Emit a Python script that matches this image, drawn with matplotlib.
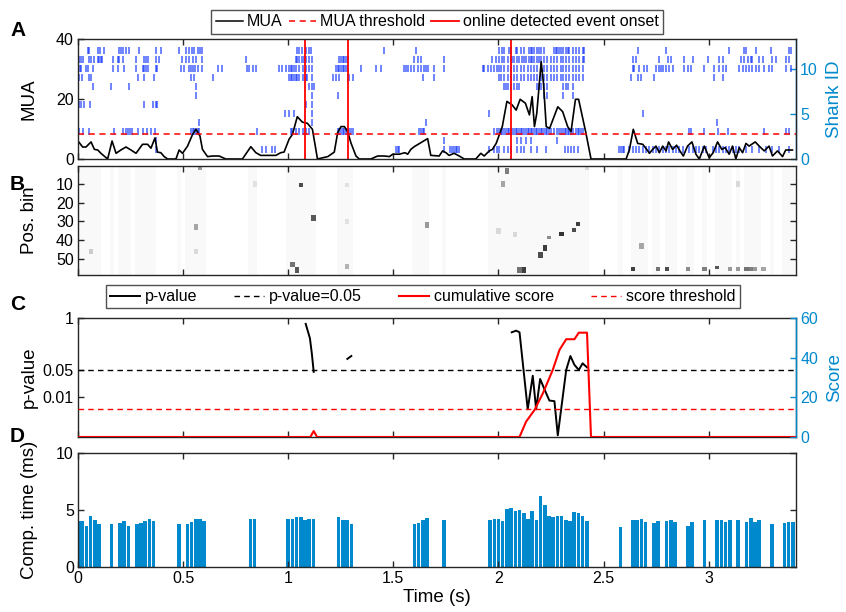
import numpy as np
import matplotlib
matplotlib.use("Agg")
import matplotlib.pyplot as plt
from matplotlib.lines import Line2D

plt.rcParams["font.family"] = ["Liberation Sans", "DejaVu Sans"]
plt.rcParams["font.size"] = 11

# ---- Panel A: MUA trace (s, spikes) ----
mua_t = [0.0, 0.022, 0.038, 0.062, 0.078, 0.094, 0.109, 0.141, 0.162, 0.181, 0.204, 0.228,
         0.252, 0.276, 0.307, 0.331, 0.347, 0.366, 0.378, 0.394, 0.410, 0.426, 0.466, 0.481,
         0.497, 0.521, 0.545, 0.561, 0.580, 0.592, 0.616, 0.640, 0.671, 0.703, 0.782, 0.822,
         0.846, 0.869, 0.941, 0.964, 0.980, 1.004, 1.020, 1.043, 1.067, 1.091, 1.115, 1.131,
         1.139, 1.188, 1.219, 1.235, 1.251, 1.267, 1.283, 1.298, 1.322, 1.338, 1.393, 1.425,
         1.457, 1.481, 1.497, 1.528, 1.555, 1.568, 1.583, 1.599, 1.663, 1.678, 1.718, 1.734,
         1.750, 1.765, 1.789, 1.813, 1.837, 1.892, 1.916, 1.932, 1.956, 1.971, 1.989, 2.018,
         2.040, 2.065, 2.084, 2.103, 2.128, 2.147, 2.160, 2.171, 2.182, 2.203, 2.214, 2.227,
         2.243, 2.258, 2.282, 2.305, 2.329, 2.345, 2.366, 2.381, 2.397, 2.416, 2.440, 2.559,
         2.607, 2.623, 2.641, 2.662, 2.686, 2.705, 2.718, 2.733, 2.749, 2.765, 2.781, 2.797,
         2.809, 2.828, 2.847, 2.863, 2.879, 2.899, 2.920, 2.939, 2.955, 2.979, 3.002, 3.021,
         3.042, 3.062, 3.078, 3.097, 3.113, 3.129, 3.145, 3.161, 3.177, 3.192, 3.221, 3.240,
         3.264, 3.287, 3.303, 3.327, 3.351, 3.366, 3.398]
mua_v = [6.0, 4.0, 4.0, 5.7, 3.2, 3.0, 1.9, 0.0, 6.0, 1.9, 3.0, 4.0,
         3.0, 1.9, 4.9, 4.9, 3.6, 7.0, 2.3, 2.1, 0.8, 0.0, 0.0, 3.0,
         1.9, 4.3, 8.2, 9.9, 7.7, 3.2, 0.8, 1.0, 1.0, 0.0, 0.0, 4.1,
         2.1, 1.2, 1.2, 2.1, 2.3, 6.6, 8.2, 14.1, 12.3, 11.9, 9.9, 3.2,
         0.0, 0.8, 2.3, 8.8, 10.8, 10.8, 9.0, 5.4, 1.0, 0.0, 0.0, 1.0,
         1.0, 0.8, 1.6, 1.6, 2.1, 1.6, 3.2, 4.1, 6.8, 1.2, 1.0, 2.7,
         2.1, 1.2, 1.9, 1.0, 0.0, 0.0, 1.9, 1.0, 2.7, 3.2, 5.2, 10.8,
         19.2, 18.0, 16.3, 19.9, 18.6, 14.7, 20.8, 10.8, 15.2, 32.4, 25.2, 10.8,
         10.2, 13.0, 17.4, 15.8, 10.8, 9.1, 19.9, 19.9, 14.7, 8.6, 0.0, 0.0,
         0.0, 3.2, 9.9, 5.2, 4.9, 3.2, 1.9, 3.2, 4.3, 2.1, 4.3, 2.7,
         5.7, 3.2, 4.6, 2.7, 1.0, 4.3, 5.7, 1.6, 0.0, 4.3, 0.4, 2.1,
         5.7, 3.2, 3.8, 1.6, 4.3, 0.0, 3.8, 2.1, 5.2, 4.3, 5.7, 4.3,
         2.7, 4.3, 1.0, 2.7, 0.8, 3.0, 3.0]
mua_threshold = 8.2
event_onsets = [1.080, 1.282, 2.059]

# spike raster, one list of spike times (s) per shank
shank_ids = [1, 2, 3, 4, 5, 6, 7, 8, 9, 10, 11, 12]
shank1 = [0.371, 0.877, 0.893, 0.925, 0.937, 1.512, 1.520, 1.528, 1.742, 1.770, 1.781, 1.789,
          1.797, 1.805, 1.813, 1.955, 1.979, 1.995, 2.003, 2.027, 2.043, 2.058, 2.090, 2.106,
          2.122, 2.153, 2.185, 2.225, 2.314, 2.330, 2.345, 2.361, 2.377, 2.575, 2.583, 2.591,
          2.599, 2.622, 2.638, 2.654, 2.670, 2.686, 2.702, 2.717, 2.733, 2.749, 2.765, 2.781,
          2.797, 2.812, 2.828, 2.844, 2.860, 2.876, 2.907, 2.923, 2.939, 2.955, 2.971, 2.987,
          3.018, 3.034, 3.050, 3.066, 3.082, 3.098, 3.113, 3.129, 3.145, 3.177, 3.208, 3.240,
          3.272, 3.303, 3.335, 3.382]
shank2 = [0.371, 1.742, 2.090, 2.106, 2.130, 2.153, 2.280]
shank3 = [0.006, 0.022, 0.051, 0.173, 0.212, 0.228, 0.236, 0.247, 0.256, 0.283, 0.307, 0.326,
          0.347, 0.367, 0.537, 0.545, 0.553, 0.561, 0.569, 0.576, 0.853, 1.012, 1.020, 1.036,
          1.052, 1.068, 1.083, 1.099, 1.235, 1.243, 1.251, 1.259, 1.267, 1.275, 1.283, 1.291,
          1.298, 1.306, 1.623, 1.631, 1.639, 1.647, 1.979, 1.995, 2.003, 2.011, 2.019, 2.027,
          2.035, 2.043, 2.051, 2.058, 2.066, 2.074, 2.082, 2.090, 2.098, 2.106, 2.114, 2.122,
          2.130, 2.138, 2.145, 2.153, 2.161, 2.169, 2.177, 2.185, 2.193, 2.201, 2.209, 2.217,
          2.225, 2.233, 2.241, 2.249, 2.264, 2.280, 2.290, 2.298, 2.306, 2.314, 2.322, 2.330,
          2.337, 2.345, 2.353, 2.369, 2.377, 2.385, 2.393, 2.401, 2.907, 2.915, 2.979, 3.042,
          3.090, 3.264, 3.367, 3.382]
shank4 = [0.576, 1.115, 1.655, 3.037]
shank5 = [0.985, 1.004, 1.028, 1.115, 1.955, 2.686]
shank6 = [0.003, 0.014, 0.030, 0.057, 0.315, 0.355, 0.371, 0.378, 1.083, 1.115]
shank7 = [0.561, 1.115, 1.235, 2.217, 2.233, 2.309, 2.353]
shank8 = [0.070, 0.157, 0.244, 0.561, 1.099, 1.115, 1.123, 2.027, 2.035, 2.043, 2.058, 2.074,
          2.090, 2.098, 2.185, 2.193, 2.201, 2.217, 2.233, 2.306, 2.322, 2.330, 2.353]
shank9 = [0.003, 0.019, 0.054, 0.062, 0.283, 0.315, 0.363, 0.537, 0.553, 0.640, 1.004, 1.012,
          1.020, 1.028, 1.036, 1.044, 1.052, 1.068, 1.083, 1.091, 1.115, 1.211, 1.227, 1.243,
          1.283, 1.291, 1.306, 1.639, 1.694, 2.003, 2.011, 2.027, 2.043, 2.058, 2.074, 2.090,
          2.106, 2.122, 2.138, 2.153, 2.169, 2.185, 2.201, 2.217, 2.233, 2.249, 2.264, 2.280,
          2.296, 2.306, 2.322, 2.337, 2.353, 2.369, 2.385, 2.401, 2.630, 2.662, 2.678, 2.741,
          3.026, 3.066]
shank10 = [0.010, 0.014, 0.038, 0.046, 0.070, 0.165, 0.188, 0.220, 0.276, 0.307, 0.315, 0.323,
           0.331, 0.371, 0.378, 0.489, 0.505, 0.529, 0.537, 0.545, 0.557, 0.569, 0.592, 0.664,
           0.687, 0.806, 0.814, 0.830, 0.846, 0.956, 0.972, 0.988, 1.004, 1.012, 1.020, 1.028,
           1.036, 1.052, 1.068, 1.083, 1.099, 1.115, 1.227, 1.235, 1.243, 1.251, 1.259, 1.267,
           1.275, 1.283, 1.346, 1.417, 1.441, 1.552, 1.560, 1.568, 1.583, 1.599, 1.615, 1.631,
           1.647, 1.655, 1.663, 1.694, 1.739, 1.924, 1.932, 1.948, 1.964, 1.979, 1.995, 2.003,
           2.011, 2.027, 2.043, 2.058, 2.074, 2.090, 2.106, 2.122, 2.138, 2.153, 2.169, 2.185,
           2.201, 2.217, 2.233, 2.249, 2.264, 2.280, 2.296, 2.306, 2.322, 2.337, 2.353, 2.369,
           2.385, 2.401, 2.638, 2.646, 2.670, 2.694, 2.705, 2.749, 2.765, 2.773, 2.781, 2.797,
           2.812, 2.828, 2.884, 2.900, 2.915, 2.979, 3.026, 3.050, 3.066, 3.082, 3.145, 3.161,
           3.177, 3.192, 3.208, 3.224, 3.240, 3.264, 3.287, 3.303, 3.367, 3.390]
shank11 = [0.003, 0.014, 0.025, 0.054, 0.062, 0.078, 0.093, 0.101, 0.109, 0.114, 0.165, 0.188,
           0.196, 0.212, 0.276, 0.315, 0.323, 0.331, 0.371, 0.386, 0.497, 0.513, 0.529, 0.545,
           0.561, 0.589, 0.798, 1.036, 1.044, 1.052, 1.064, 1.075, 1.083, 1.099, 1.115, 1.243,
           1.251, 1.259, 1.267, 1.275, 1.283, 1.599, 1.615, 1.631, 1.739, 1.971, 1.987, 2.003,
           2.019, 2.027, 2.043, 2.058, 2.066, 2.074, 2.090, 2.098, 2.114, 2.122, 2.130, 2.146,
           2.153, 2.161, 2.169, 2.185, 2.193, 2.201, 2.217, 2.233, 2.249, 2.264, 2.280, 2.296,
           2.306, 2.322, 2.337, 2.353, 2.369, 2.385, 2.401, 2.409, 2.638, 2.654, 2.765, 2.804,
           2.820, 2.884, 2.923, 2.995, 3.050, 3.066, 3.153, 3.169, 3.185, 3.200, 3.208, 3.240,
           3.256, 3.303, 3.319, 3.367, 3.382]
shank12 = [0.046, 0.054, 0.094, 0.105, 0.125, 0.196, 0.204, 0.215, 0.228, 0.241, 0.291, 0.370,
           0.394, 0.481, 0.513, 0.526, 0.541, 0.553, 0.569, 0.580, 0.592, 1.043, 1.051, 1.067,
           1.083, 1.099, 1.107, 1.457, 1.607, 2.003, 2.019, 2.027, 2.050, 2.058, 2.082, 2.090,
           2.109, 2.121, 2.145, 2.153, 2.161, 2.169, 2.185, 2.193, 2.204, 2.217, 2.264, 2.272,
           2.280, 2.288, 2.296, 2.306, 2.322, 2.329, 2.337, 2.353, 2.369, 2.385, 2.401, 2.409,
           2.662, 2.797, 3.097, 3.169, 3.177, 3.224, 3.295, 3.382, 3.390]
shank_spikes = [shank1, shank2, shank3, shank4, shank5, shank6,
                shank7, shank8, shank9, shank10, shank11, shank12]

# ---- Panel D: computation time per 20 ms bin (s, ms) ----
bar_t = [0.00, 0.02, 0.04, 0.06, 0.08, 0.10, 0.16, 0.20, 0.22, 0.24, 0.28, 0.30, 0.32, 0.34,
         0.36, 0.48, 0.52, 0.54, 0.56, 0.58, 0.60, 0.82, 0.84, 1.00, 1.02, 1.04, 1.06, 1.08,
         1.10, 1.12, 1.24, 1.26, 1.28, 1.30, 1.60, 1.62, 1.64, 1.66, 1.74, 1.96, 1.98, 2.00,
         2.02, 2.04, 2.06, 2.08, 2.10, 2.12, 2.14, 2.16, 2.18, 2.20, 2.22, 2.24, 2.26, 2.28,
         2.30, 2.32, 2.34, 2.36, 2.38, 2.40, 2.42, 2.58, 2.64, 2.66, 2.68, 2.70, 2.74, 2.76,
         2.80, 2.82, 2.84, 2.90, 2.92, 2.98, 3.04, 3.06, 3.08, 3.10, 3.14, 3.18, 3.20, 3.22,
         3.24, 3.30, 3.36, 3.38, 3.40]
bar_ms = [4.05, 4.05, 3.6, 4.45, 4.15, 3.8, 3.8, 3.85, 4.05, 3.6, 3.8, 3.85, 4.05, 4.2,
          4.05, 3.8, 3.8, 3.95, 4.2, 4.2, 4.05, 4.2, 4.2, 4.2, 4.2, 4.4, 4.4, 4.15,
          4.2, 4.2, 4.4, 4.1, 4.1, 3.8, 3.8, 3.9, 4.1, 4.3, 4.1, 4.1, 4.2, 4.2,
          4.0, 5.1, 5.2, 4.9, 5.0, 4.7, 4.25, 4.9, 4.15, 6.2, 5.45, 4.5, 4.35, 4.5,
          4.5, 4.1, 4.05, 4.85, 4.7, 4.5, 4.0, 3.5, 4.1, 4.1, 4.2, 3.95, 3.85, 4.0,
          4.0, 4.1, 3.95, 3.6, 3.95, 4.1, 4.1, 4.1, 3.95, 4.1, 4.1, 3.95, 4.3, 3.95,
          4.1, 3.8, 3.85, 3.95, 3.95]

# ---- Panel B: decoded posterior, darker spots (time s, first bin, last bin, prob) ----
n_pos_bins = 58
spot_t = [0.06, 0.56, 0.56, 0.58, 0.84, 1.02, 1.04, 1.06, 1.12, 1.28, 1.28, 1.28, 1.66,
          2.00, 2.02, 2.04, 2.08, 2.10, 2.12, 2.20, 2.22, 2.24, 2.30, 2.36, 2.38, 2.42,
          2.64, 2.68, 2.76, 2.80, 2.90, 2.98, 3.04, 3.10, 3.14, 3.14, 3.18, 3.20, 3.22, 3.26]
spot_lo = [45, 32, 45, 1, 9, 52, 55, 10, 27, 10, 29, 53, 31,
           34, 9, 2, 36, 55, 55, 47, 43, 38, 36, 34, 31, 1,
           55, 42, 55, 55, 55, 55, 54, 55, 55, 9, 55, 55, 55, 55]
spot_hi = [47, 34, 47, 2, 11, 54, 57, 11, 29, 11, 31, 55, 33,
           36, 11, 4, 38, 57, 57, 49, 45, 39, 37, 35, 32, 2,
           56, 44, 56, 56, 56, 56, 55, 56, 56, 11, 56, 56, 56, 56]
spot_p = [0.2, 0.35, 0.15, 0.4, 0.12, 0.55, 0.65, 0.7, 0.65, 0.12, 0.12, 0.3, 0.4,
          0.15, 0.35, 0.5, 0.15, 0.55, 0.75, 0.7, 0.75, 0.45, 0.8, 0.7, 0.75, 0.15,
          0.75, 0.35, 0.55, 0.7, 0.45, 0.5, 0.65, 0.4, 0.4, 0.15, 0.55, 0.5, 0.4, 0.35]
background_p = 0.025

# ---- Panel C: replay p-value and cumulative score ----
pval_t = [1.083, 1.103, 1.112, 1.121, np.nan, 1.281, 1.300, np.nan,
          2.063, 2.084, 2.100, 2.139, 2.163, 2.179, 2.198, 2.227, 2.242, 2.266,
          2.282, 2.322, 2.342, 2.361, 2.382, 2.400, 2.421]
pval_v = [0.71, 0.31, 0.13, 0.044, np.nan, 0.093, 0.11, np.nan,
          0.436, 0.48, 0.436, 0.005, 0.035, 0.005, 0.029, 0.0126, 0.0083, 0.008,
          0.0011, 0.049, 0.11, 0.066, 0.049, 0.072, 0.057]
score_t = [0.0, 1.105, 1.121, 1.137, 2.100, 2.131, 2.171, 2.211, 2.258, 2.290, 2.322,
           2.361, 2.382, 2.421, 2.440, 3.415]
score_v = [0, 0, 3.0, 0, 0, 7.7, 13.6, 22.0, 33.8, 43.9, 49.3, 49.3, 52.6, 52.6, 0, 0]
pval_threshold = 0.05
score_threshold = 14

# ---- styling ----
W, H = 846, 612
XMAX = 3.415
blue = "#0089cc"
spine_c = "#262626"
raster_c = "#0a2dff"

fig = plt.figure(figsize=(W / 100, H / 100), dpi=100)


def box(top, bottom, left=78, right=796):
    return [left / W, 1 - bottom / H, (right - left) / W, (bottom - top) / H]


def style(ax, right_ticks=True):
    for s in ax.spines.values():
        s.set_color(spine_c)
        s.set_linewidth(1.0)
    ax.tick_params(direction="in", length=4.5, width=1.0, color=spine_c,
                   top=True, right=right_ticks, labelsize=11.5, pad=3)
    ax.set_xlim(0, XMAX)
    ax.set_xticks([0, 0.5, 1, 1.5, 2, 2.5, 3])


def style_right(ax2):
    for s in ax2.spines.values():
        s.set_visible(False)
    ax2.spines["right"].set_visible(True)
    ax2.spines["right"].set_color(blue)
    ax2.spines["right"].set_linewidth(1.0)
    ax2.tick_params(axis="y", direction="in", length=4.5, width=1.0, color=blue,
                    labelcolor=blue, labelsize=11.5, pad=3)


# Panel A
axA = fig.add_axes(box(39, 159))
style(axA, right_ticks=False)
axA2 = axA.twinx()
axA2.eventplot(shank_spikes, lineoffsets=[s + 0.1 for s in shank_ids], linelengths=0.8,
               colors=raster_c, linewidths=1.1, alpha=0.75)
axA2.set_ylim(0, 40 / 3)
axA2.set_yticks([0, 5, 10])
style_right(axA2)
axA2.set_ylabel("Shank ID", color=blue, fontsize=13.5)
axA2.yaxis.set_label_coords((826 - 78) / 718, 0.5)
axA.set_zorder(axA2.get_zorder() + 1)
axA.patch.set_visible(False)
axA.plot(mua_t, mua_v, color="black", lw=1.2)
axA.axhline(mua_threshold, color="red", ls=(0, (4, 3)), lw=1.1)
for t in event_onsets:
    axA.axvline(t, color="red", lw=1.3)
axA.set_ylim(0, 40)
axA.set_yticks([0, 20, 40])
axA.set_xticklabels([])
axA.set_ylabel("MUA", fontsize=13.5)
axA.yaxis.set_label_coords((38 - 78) / 718, 0.5)
hA = [Line2D([], [], color="black", lw=1.1),
      Line2D([], [], color="red", ls=(0, (4, 3)), lw=1.1),
      Line2D([], [], color="red", lw=1.3)]
legA = axA.legend(hA, ["MUA", "MUA threshold", "online detected event onset"], ncol=3,
                  loc="lower center", bbox_to_anchor=(0.5, 1.04), fontsize=11.5,
                  frameon=True, fancybox=False, handlelength=1.7, handletextpad=0.25,
                  columnspacing=0.4, borderpad=0.3, borderaxespad=0)
legA.get_frame().set_edgecolor(spine_c)
legA.get_frame().set_linewidth(1.0)

# Panel B
axB = fig.add_axes(box(166, 275))
style(axB)
n_tbins = int(round(XMAX / 0.02)) + 1
post = np.zeros((n_pos_bins, n_tbins))
for t in bar_t:
    post[:, int(round(t / 0.02))] = background_p
for t, lo, hi, p in zip(spot_t, spot_lo, spot_hi, spot_p):
    post[lo - 1:hi, int(round(t / 0.02))] = p
x_edges = (np.arange(n_tbins + 1) - 0.5) * 0.02
y_edges = np.arange(n_pos_bins + 1) + 0.5
axB.pcolormesh(x_edges, y_edges, post, cmap="gray_r", vmin=0, vmax=1, shading="flat")
axB.set_ylim(n_pos_bins + 0.5, 0.5)
axB.set_xlim(0, XMAX)
axB.set_yticks([10, 20, 30, 40, 50])
axB.set_xticklabels([])
axB.set_ylabel("Pos. bin", fontsize=13.5)
axB.yaxis.set_label_coords((38 - 78) / 718, 0.5)

# Panel C
axC = fig.add_axes(box(318, 437))
style(axC, right_ticks=False)
axC.set_yscale("log")
axC.set_ylim(0.001, 1)
axC.set_yticks([0.01, 0.05, 1])
axC.set_yticklabels(["0.01", "0.05", "1"])
axC.yaxis.set_minor_locator(matplotlib.ticker.NullLocator())
axC.plot(pval_t, pval_v, color="black", lw=1.4)
axC.axhline(pval_threshold, color="black", ls=(0, (4, 3)), lw=1.0)
axC.set_xticklabels([])
axC.set_ylabel("p-value", fontsize=13.5)
axC.yaxis.set_label_coords((38 - 78) / 718, 0.5)
axC2 = axC.twinx()
axC2.plot(score_t, score_v, color="red", lw=1.5)
axC2.axhline(score_threshold, color="red", ls=(0, (4, 3)), lw=1.0)
axC2.set_ylim(0, 60)
axC2.set_yticks([0, 20, 40, 60])
style_right(axC2)
axC2.set_ylabel("Score", color=blue, fontsize=13.5)
axC2.yaxis.set_label_coords((826 - 78) / 718, 0.5)
hC = [Line2D([], [], color="black", lw=1.4),
      Line2D([], [], color="black", ls=(0, (4, 3)), lw=1.0),
      Line2D([], [], color="red", lw=1.5),
      Line2D([], [], color="red", ls=(0, (4, 3)), lw=1.0)]
legC = axC.legend(hC, ["p-value", "p-value=0.05", "cumulative score", "score threshold"],
                  ncol=4, loc="lower center", bbox_to_anchor=(0.48, 1.08), fontsize=11.5,
                  frameon=True, fancybox=False, handlelength=1.9, handletextpad=0.3,
                  columnspacing=2.3, borderpad=0.25, borderaxespad=0)
legC.get_frame().set_edgecolor(spine_c)
legC.get_frame().set_linewidth(1.0)

# Panel D
axD = fig.add_axes(box(453, 567))
style(axD)
axD.bar(bar_t, bar_ms, width=0.017, color=blue, linewidth=0)
axD.set_ylim(0, 10)
axD.set_yticks([0, 5, 10])
axD.set_xticklabels(["0", "0.5", "1", "1.5", "2", "2.5", "3"])
axD.set_ylabel("Comp. time (ms)", fontsize=13.5)
axD.yaxis.set_label_coords((38 - 78) / 718, 0.5)
axD.set_xlabel("Time (s)", fontsize=13.5, labelpad=2)

for letter, y in [("A", 30), ("B", 184), ("C", 305), ("D", 436)]:
    fig.text(10 / W, 1 - y / H, letter, fontsize=15, fontweight="bold", va="center")

fig.savefig("out.png", dpi=100)
